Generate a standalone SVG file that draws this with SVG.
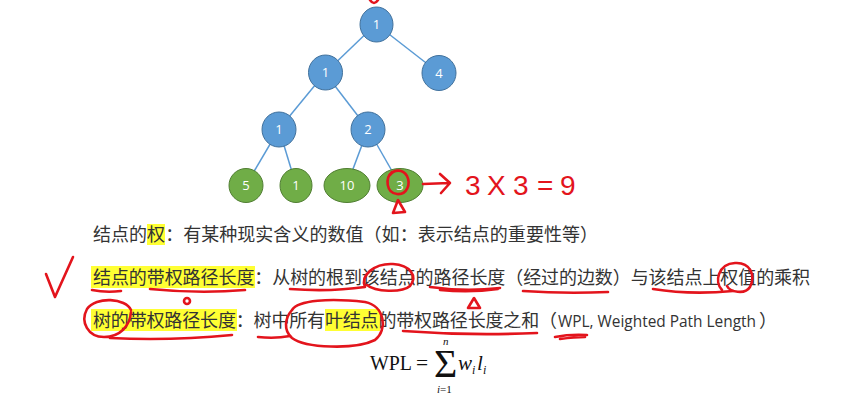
<svg xmlns="http://www.w3.org/2000/svg" width="860" height="410" viewBox="0 0 860 410">
<style>
.blue{fill:#5b9bd5;stroke:#41719c;stroke-width:1}
.green{fill:#70ad47;stroke:#507e32;stroke-width:1}
.lbl{font-family:"Open Sans","Liberation Sans",sans-serif;font-size:13px;fill:#ffffff;text-anchor:middle}
.edge{stroke:#5b9bd5;stroke-width:1.5;fill:none}
.body{font-family:"Noto Sans CJK SC",sans-serif;font-size:18px;fill:#333333}
.en{font-family:"Open Sans","Liberation Sans",sans-serif;font-size:16px;fill:#333333}
.hl{fill:#ffff33}
.red{stroke:#e3141c;stroke-width:2.6;fill:none;stroke-linecap:round;stroke-linejoin:round}
.math{font-family:"Liberation Serif",serif;fill:#111111}
</style>
<rect width="860" height="410" fill="#ffffff"/>
<g id="connectors">
<line class="edge" x1="376" y1="24" x2="325" y2="73"/>
<line class="edge" x1="376" y1="24" x2="439" y2="73"/>
<line class="edge" x1="325" y1="73" x2="279" y2="129"/>
<line class="edge" x1="325" y1="73" x2="368" y2="129"/>
<line class="edge" x1="279" y1="129" x2="246" y2="185"/>
<line class="edge" x1="279" y1="129" x2="296" y2="185"/>
<line class="edge" x1="368" y1="129" x2="347" y2="185"/>
<line class="edge" x1="368" y1="129" x2="400" y2="185"/>
</g>
<g id="n_root"><ellipse class="blue" cx="376.5" cy="24.5" rx="16.5" ry="17.5"/><text class="lbl" x="376.5" y="29">1</text></g>
<g id="n_l1"><ellipse class="blue" cx="325.5" cy="72.5" rx="17" ry="17.5"/><text class="lbl" x="325.5" y="77">1</text></g>
<g id="n_r4"><ellipse class="blue" cx="439" cy="73" rx="17" ry="17.5"/><text class="lbl" x="439" y="77.5">4</text></g>
<g id="n_l2a"><ellipse class="blue" cx="279" cy="129.5" rx="17" ry="17.5"/><text class="lbl" x="279" y="134">1</text></g>
<g id="n_l2b"><ellipse class="blue" cx="368" cy="129.5" rx="17" ry="17.5"/><text class="lbl" x="368" y="134">2</text></g>
<g id="leaf5"><ellipse class="green" cx="246" cy="185.5" rx="17" ry="17"/><text class="lbl" x="246" y="190">5</text></g>
<g id="leaf1"><ellipse class="green" cx="296" cy="185.5" rx="16" ry="17"/><text class="lbl" x="296" y="190">1</text></g>
<g id="leaf10"><ellipse class="green" cx="347" cy="185.5" rx="23" ry="17"/><text class="lbl" x="347" y="190">10</text></g>
<g id="leaf3"><ellipse class="green" cx="400" cy="185.5" rx="23" ry="17"/><text class="lbl" x="400" y="190">3</text></g>

<g id="highlights">
<rect class="hl" x="147" y="224" width="18" height="21"/>
<rect class="hl" x="91" y="266" width="164" height="22"/>
<rect class="hl" x="91" y="309" width="146" height="22"/>
<rect class="hl" x="325" y="309" width="55" height="22"/>
</g>
<g id="text">
<text class="body" x="93" y="241" textLength="505" lengthAdjust="spacing">结点的权：有某种现实含义的数值（如：表示结点的重要性等）</text>
<text class="body" x="93" y="284" textLength="717" lengthAdjust="spacing">结点的带权路径长度：从树的根到该结点的路径长度（经过的边数）与该结点上权值的乘积</text>
<text class="body" x="93" y="327" textLength="464" lengthAdjust="spacing">树的带权路径长度：树中所有叶结点的带权路径长度之和（</text>
<text class="en" x="558" y="327" textLength="198" lengthAdjust="spacingAndGlyphs">WPL, Weighted Path Length</text>
<text class="body" x="759" y="327">）</text>
</g>
<g id="formula">
<text class="math" x="370" y="370" font-size="21.5" textLength="42" lengthAdjust="spacingAndGlyphs">WPL</text>
<text class="math" x="416" y="370" font-size="21.5">=</text>
<text class="math"><tspan x="434" y="377" font-size="40">Σ</tspan><tspan x="443" y="345" font-size="11" font-style="italic">n</tspan><tspan x="437" y="393" font-size="11" font-style="italic">i</tspan><tspan font-size="11">=1</tspan></text>
<text class="math" x="458" y="370" font-size="21" font-style="italic">w</text>
<text class="math" x="472" y="374" font-size="12" font-style="italic">i</text>
<text class="math" x="477" y="370" font-size="21" font-style="italic">l</text>
<text class="math" x="483" y="374" font-size="12" font-style="italic">i</text>
</g>
<g id="annotations">
<path class="red" d="M370,0 Q374,6 378,0"/>
<path class="red" d="M392,172 C385,178 386,193 397,194 C407,195 411,184 407,176 C403,169 394,169 390,175"/>
<path class="red" d="M398,200 L393,213 L405,212 Z"/>
<path class="red" d="M423,184 L449,183 M440,174 L450,183 L441,193"/>
<text x="465 487 513 537 560" y="195" font-family="Liberation Sans, sans-serif" font-size="28" fill="#e3141c">3X3=9</text>
<path class="red" d="M46,274 L55,297 L73,257"/>
<path class="red" d="M92,290 Q106,293 121,291"/>
<path class="red" d="M150,289 Q200,294 245,290"/>
<circle class="red" cx="187" cy="301" r="3" stroke-width="2"/>
<path class="red" d="M290,289 Q330,292 365,287 C360,275 375,263 393,264 C410,265 418,276 410,286 C402,293 375,292 367,285"/>
<path class="red" d="M430,287 Q465,292 500,288 M440,290 Q470,293 498,289"/>
<path class="red" d="M474,298 L468,308 L480,308 Z" stroke-width="2.2"/>
<path class="red" d="M523,291 Q565,294 608,292"/>
<path class="red" d="M653,289 Q690,295 733,291"/>
<path class="red" d="M722,290 C714,282 718,264 735,263 C750,262 756,275 750,287 C745,295 730,292 727,286"/>
<path class="red" d="M131,310 C126,298 96,296 87,309 C80,322 88,337 104,337 C120,337 130,326 131,312 M110,338 Q170,341 232,335"/>
<path class="red" d="M258,337 Q275,339 290,336"/>
<path class="red" d="M292,310 C298,300 330,298 365,302 C385,306 388,330 375,340 C355,350 305,348 292,338 C283,330 285,318 292,310"/>
<path class="red" d="M403,331 Q470,336 537,333"/>
<path class="red" d="M555,337 Q570,334 587,335 M560,339 Q575,337 585,337"/>
</g>
</svg>
